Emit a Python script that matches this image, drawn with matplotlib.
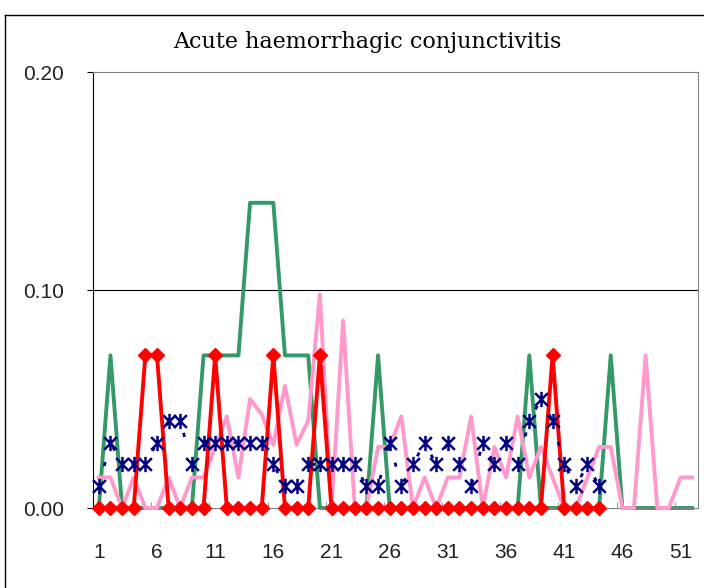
import numpy as np
import matplotlib.pyplot as plt
from matplotlib.path import Path
from matplotlib.lines import Line2D

# weekly values
weeks = np.arange(1, 53)
green = [0, .07, 0, 0, 0, 0, 0, 0, 0, .07, .07, .07, .07, .14, .14, .14, .07, .07, .07, 0,
         0, 0, 0, 0, .07, 0, 0, 0, 0, 0, 0, 0, 0, 0, 0, 0, 0, .07, 0, 0,
         0, 0, 0, 0, .07, 0, 0, 0, 0, 0, 0, 0]
pink = [.014, .014, 0, .014, 0, 0, .014, 0, .014, .014, .028, .042, .014, .05, .043, .029, .056, .029, .04, .098,
        0, .086, 0, 0, .028, .028, .042, 0, .014, 0, .014, .014, .042, 0, .028, .014, .042, .014, .028, .014,
        0, 0, .014, .028, .028, 0, 0, .07, 0, 0, .014, .014]
red = [0, 0, 0, 0, .07, .07, 0, 0, 0, 0, .07, 0, 0, 0, 0, .07, 0, 0, 0, .07,
       0, 0, 0, 0, 0, 0, 0, 0, 0, 0, 0, 0, 0, 0, 0, 0, 0, 0, 0, .07,
       0, 0, 0, 0]
navy = [.01, .03, .02, .02, .02, .03, .04, .04, .02, .03, .03, .03, .03, .03, .03, .02, .01, .01, .02, .02,
        .02, .02, .02, .01, .01, .03, .01, .02, .03, .02, .03, .02, .01, .03, .02, .03, .02, .04, .05, .04,
        .02, .01, .02, .01]

xtick_labels = [str(w) for w in range(1, 52, 5)]
ytick_values = [0, 0.1, 0.2]
ytick_labels = ['0.00', '0.10', '0.20']

# excel style asterisk: an x with a vertical bar
asterisk = Path([(-1, -1), (1, 1), (-1, 1), (1, -1), (0, -1.2), (0, 1.2)],
                [Path.MOVETO, Path.LINETO, Path.MOVETO, Path.LINETO, Path.MOVETO, Path.LINETO])

fig = plt.figure(figsize=(7.04, 5.88), dpi=100)
ax = fig.add_axes([93 / 704, 80 / 588, 605 / 704, 436 / 588])

ax.axhline(0.1, color='black', lw=0.8, zorder=1)

ax.plot(weeks, green, color='#339966', lw=2.8, solid_joinstyle='round', zorder=2, clip_on=False)
ax.plot(weeks, pink, color='#FF99CC', lw=2.8, solid_joinstyle='round', zorder=3, clip_on=False)
ax.plot(weeks[:len(red)], red, color='#FF0000', lw=2.8, solid_joinstyle='round',
        marker='D', ms=7, zorder=4, clip_on=False)
ax.plot(weeks[:len(navy)], navy, color='#000080', lw=2, ls=(3, (1.5, 9)),
        marker=asterisk, ms=11, mew=1.8, zorder=5, clip_on=False)

ax.set_xlim(0.5, 52.5)
ax.set_ylim(0, 0.2)
ax.set_xticks(range(1, 52, 5))
ax.set_xticklabels(xtick_labels)
ax.set_xticks(np.arange(0.5, 52, 5), minor=True)
ax.set_yticks(ytick_values)
ax.set_yticklabels(ytick_labels)

ax.tick_params(axis='x', which='major', length=0, pad=25, labelsize=15, labelcolor='#222222')
ax.tick_params(axis='x', which='minor', direction='in', length=4, color='#808080')
ax.tick_params(axis='y', direction='out', length=4, pad=17, labelsize=15, labelcolor='#222222')
for lab in ax.get_xticklabels() + ax.get_yticklabels():
    lab.set_family('Liberation Sans')

for side in ['top', 'right', 'bottom']:
    ax.spines[side].set_color('#808080')
ax.spines['left'].set_color('black')

fig.text(367 / 704, 1 - 42 / 588, 'Acute haemorrhagic conjunctivitis',
         ha='center', va='center', family='DejaVu Serif', fontsize=16)

# outer chart frame
fig.add_artist(Line2D([5 / 704, 5 / 704], [0, 1 - 15 / 588], transform=fig.transFigure, color='black', lw=1))
fig.add_artist(Line2D([5 / 704, 1], [1 - 15 / 588, 1 - 15 / 588], transform=fig.transFigure, color='black', lw=1))

fig.savefig('out.png', dpi=100)
